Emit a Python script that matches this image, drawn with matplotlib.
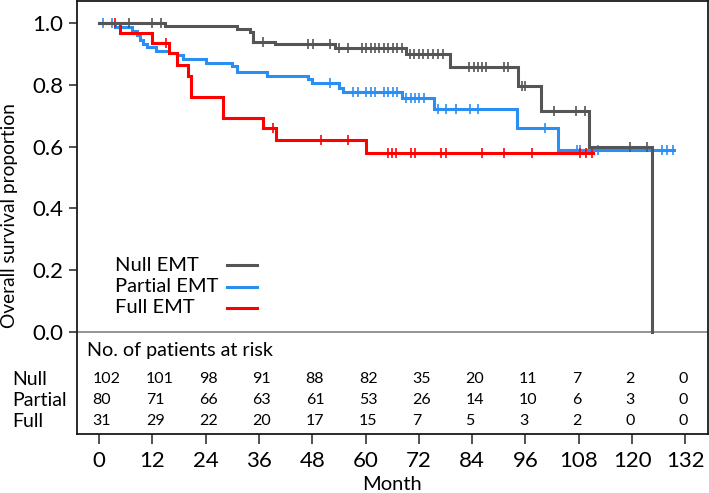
import numpy as np
import matplotlib
matplotlib.use("Agg")
import matplotlib.pyplot as plt
from matplotlib.lines import Line2D

plt.rcParams['font.family'] = ['Lato', 'DejaVu Sans']

# ---------------- data ----------------
groups = ["Null EMT", "Partial EMT", "Full EMT"]
colors = ["#555555", "#2a8ff5", "#ff0000"]

# Null EMT: event times and survival after each event
null_times = [14.8, 31.0, 34.0, 34.7, 39.7, 53.1, 69.1, 79.0, 94.2, 99.5, 110.4, 124.5]
null_surv = [0.990, 0.980, 0.970, 0.940, 0.932, 0.919, 0.901, 0.859, 0.797, 0.716, 0.598, 0.0]
null_cens = [6.8, 11.8, 13.9, 36.8, 47.1, 48.1, 52.0, 54.0, 56.1, 59.1, 60.1, 61.1, 62.1,
             63.1, 64.1, 65.1, 66.1, 67.1, 68.1, 70.0, 71.0, 72.0, 73.0, 74.1, 75.1, 76.4,
             77.5, 83.3, 84.3, 85.2, 86.1, 87.2, 91.1, 92.0, 95.2, 96.0, 102.4, 107.4,
             109.4, 119.5, 123.3]
null_end = 124.5

# Partial EMT
partial_times = [3.6, 7.3, 8.6, 9.2, 9.9, 10.7, 12.8, 15.8, 17.5, 18.9, 24.1, 29.8, 31.0,
                 37.7, 47.0, 48.0, 54.0, 54.9, 68.1, 75.3, 94.1, 103.3]
partial_surv = [0.988, 0.976, 0.962, 0.946, 0.933, 0.924, 0.911, 0.905, 0.897, 0.883, 0.872,
                0.862, 0.843, 0.830, 0.818, 0.805, 0.790, 0.776, 0.757, 0.721, 0.661, 0.588]
partial_cens = [0.8, 2.8, 52.0, 57.1, 58.3, 60.1, 61.1, 62.1, 64.1, 65.1, 66.1, 67.1, 69.1,
                70.2, 71.1, 72.1, 73.2, 76.4, 78.2, 80.4, 83.4, 85.3, 100.3, 107.5, 108.2,
                112.3, 126.7, 127.8, 129.2]
partial_end = 129.5

# Full EMT
full_times = [4.6, 11.8, 15.8, 17.6, 19.9, 20.6, 27.8, 36.8, 39.8, 60.1]
full_surv = [0.968, 0.937, 0.903, 0.865, 0.830, 0.761, 0.694, 0.662, 0.622, 0.579]
full_cens = [3.6, 15.0, 39.1, 49.9, 56.1, 65.1, 66.0, 66.8, 70.2, 71.1, 77.0, 78.0, 86.1,
             91.2, 97.4, 108.2, 109.6, 111.0]
full_end = 111.3

# numbers at risk
risk_months = [0, 12, 24, 36, 48, 60, 72, 84, 96, 108, 120, 132]
risk_rows = ["Null", "Partial", "Full"]
null_risk = [102, 101, 98, 91, 88, 82, 35, 20, 11, 7, 2, 0]
partial_risk = [80, 71, 66, 63, 61, 53, 26, 14, 10, 6, 3, 0]
full_risk = [31, 29, 22, 20, 17, 15, 7, 5, 3, 2, 0, 0]

yticks = [0.0, 0.2, 0.4, 0.6, 0.8, 1.0]

# ---------------- figure ----------------
W, H = 709, 493
fig = plt.figure(figsize=(W / 100, H / 100), dpi=100)
ax = fig.add_axes([77 / W, 1 - 434 / H, (708 - 77) / W, (434 - 1) / H])
ax.set_xlim(-5.0, 137.1)
ax.set_ylim(-0.331, 1.072)

def draw_curve(times, surv, cens, end, color, z):
    t = np.array([0.0] + list(times) + [end])
    s = np.array([1.0] + list(surv) + [surv[-1]])
    ax.step(t, s, where='post', color=color, lw=2.2, zorder=z, solid_joinstyle='miter')
    ct = np.array(cens)
    idx = np.searchsorted(t, ct, side='right') - 1
    ax.plot(ct, s[idx], linestyle='none', marker='|', markersize=6.5, mew=1.2,
            color=color, zorder=z)

draw_curve(partial_times, partial_surv, partial_cens, partial_end, colors[1], 3)
draw_curve(full_times, full_surv, full_cens, full_end, colors[2], 4)
draw_curve(null_times, null_surv, null_cens, null_end, colors[0], 5)

# separator line at 0
ax.axhline(0, color="#8c8c8c", lw=1.3, zorder=2)

# axes styling
for sp in ax.spines.values():
    sp.set_linewidth(1.3)
    sp.set_color("#1a1a1a")
ax.set_yticks(yticks)
ax.set_yticklabels([f"{v:.1f}" for v in yticks])
ax.set_xticks(risk_months)
ax.set_xticklabels([str(m) for m in risk_months])
ax.tick_params(axis='y', direction='out', length=6, width=1.2, pad=4, labelsize=16,
               color="#333333")
ax.tick_params(axis='x', direction='out', length=7.5, width=1.2, pad=5, labelsize=16,
               color="#333333")
ax.set_xlabel("Month", fontsize=14.5, labelpad=3)
fig.text(10 / W, 1 - 216 / H, "Overall survival proportion", rotation=90,
         ha='center', va='center', fontsize=13.8)

# legend (text first, line after)
leg_y = [0.390, 0.340, 0.291]
for name, col, yy in zip(groups, colors, leg_y):
    ax.text(0.060, yy, name, transform=ax.transAxes, ha='left', va='center', fontsize=14.5)
    ax.add_line(Line2D([0.238, 0.285], [yy, yy], transform=ax.transAxes, color=col, lw=2.2))

# risk table
ax.text(-2.8, -0.059, "No. of patients at risk", ha='left', va='center', fontsize=14.2)
row_y = [-0.153, -0.221, -0.289]
for label, vals, yy in zip(risk_rows, [null_risk, partial_risk, full_risk], row_y):
    ax.text(-19.6, yy, label, ha='left', va='center', fontsize=14, clip_on=False)
    for m, v in zip(risk_months, vals):
        ax.text(m - 1.5, yy, str(v), ha='left', va='center', fontsize=11.5)

fig.savefig("out.png", dpi=100)
